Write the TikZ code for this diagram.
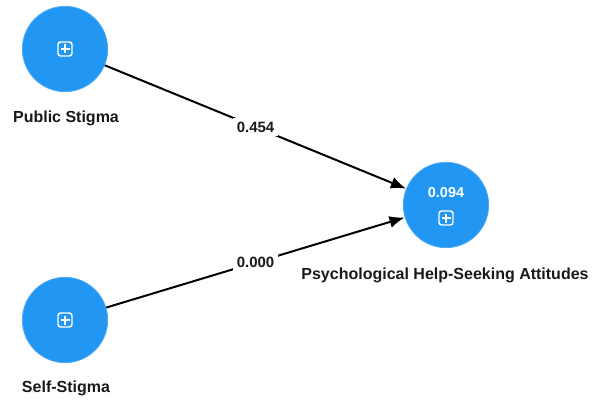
\documentclass[tikz,border=0pt]{standalone}
\usepackage{fontspec}
\setmainfont{Liberation Sans}
\usetikzlibrary{arrows.meta}
\definecolor{lvblue}{RGB}{33,150,243}
\begin{document}
\begin{tikzpicture}[x=0.75pt,y=-0.75pt,
  latent/.style={circle,fill=lvblue,draw=lvblue!80!white,line width=0.6pt,minimum size=64pt,inner sep=0pt},
  lvname/.style={font=\bfseries\fontsize{12}{14}\selectfont,text=black!90,inner sep=1pt},
  coef/.style={font=\bfseries\fontsize{11.2}{13}\selectfont,text=black!90,fill=white,inner sep=2.5pt,midway},
  pathline/.style={line width=1.5pt,-{Latex[length=11.5pt,width=9pt]}},
  plusicon/.pic={
    \draw[white,line width=1.1pt,rounded corners=2pt] (-7,-7) rectangle (7,7);
    \draw[white,line width=1.1pt] (-4.5,0) -- (4.5,0) (0,-4.5) -- (0,4.5);
  }]
\useasboundingbox (0,0) rectangle (593,403);
\node[latent] (ps) at (65,49) {};
\node[latent] (ss) at (65,320) {};
\node[latent] (ph) at (446,205) {};
\pic at (65,49) {plusicon};
\pic at (65,320) {plusicon};
\pic at (446,218) {plusicon};
\node[font=\bfseries\fontsize{10.8}{13}\selectfont,text=white,inner sep=0pt] (r2) at (446,193) {0.094};
\node[lvname] (psl) at (66,118) {Public Stigma};
\node[lvname] (ssl) at (66,388) {Self-Stigma};
\node[lvname] (phl) at (445,275) {Psychological Help-Seeking Attitudes};
\draw[pathline] (ps) -- node[coef] (c1) {0.454} (ph);
\draw[pathline] (ss) -- node[coef] (c2) {0.000} (ph);
\end{tikzpicture}
\end{document}
